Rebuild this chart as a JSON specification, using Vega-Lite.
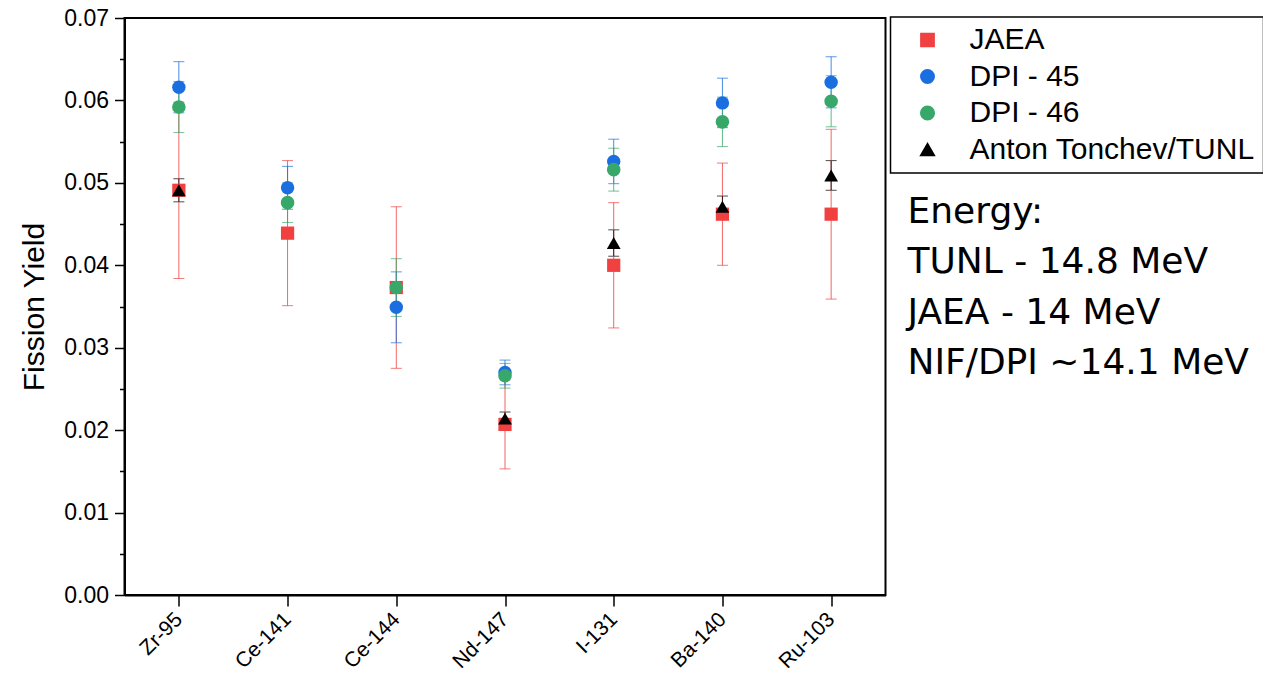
{
  "$schema": "https://vega.github.io/schema/vega-lite/v6.json",
  "width": 761,
  "height": 577,
  "autosize": {"type": "none"},
  "padding": {"left": 124.5, "top": 18, "right": 377.5, "bottom": 98},
  "background": "white",
  "config": {
    "view": {"stroke": "black", "strokeWidth": 2},
    "font": "Liberation Sans",
    "legend": {"strokeWidth": 1.5},
    "axis": {"grid": false, "domainColor": "black", "domainWidth": 2, "tickColor": "black", "tickWidth": 1.5, "labelColor": "black", "titleColor": "black", "labelFont": "Liberation Sans", "titleFont": "Liberation Sans"}
  },
  "datasets": {
    "yields": [
      {"iso": "Zr-95", "series": "JAEA", "y": 0.0491, "err": 0.0107},
      {"iso": "Ce-141", "series": "JAEA", "y": 0.0439, "err": 0.0088},
      {"iso": "Ce-144", "series": "JAEA", "y": 0.0373, "err": 0.0098},
      {"iso": "Nd-147", "series": "JAEA", "y": 0.0207, "err": 0.0054},
      {"iso": "I-131", "series": "JAEA", "y": 0.0400, "err": 0.0076},
      {"iso": "Ba-140", "series": "JAEA", "y": 0.0462, "err": 0.0062},
      {"iso": "Ru-103", "series": "JAEA", "y": 0.0462, "err": 0.0103},
      {"iso": "Zr-95", "series": "DPI - 45", "y": 0.0616, "err": 0.0031},
      {"iso": "Ce-141", "series": "DPI - 45", "y": 0.0494, "err": 0.0026},
      {"iso": "Ce-144", "series": "DPI - 45", "y": 0.0349, "err": 0.0043},
      {"iso": "Nd-147", "series": "DPI - 45", "y": 0.0270, "err": 0.0015},
      {"iso": "I-131", "series": "DPI - 45", "y": 0.0526, "err": 0.0027},
      {"iso": "Ba-140", "series": "DPI - 45", "y": 0.0597, "err": 0.0030},
      {"iso": "Ru-103", "series": "DPI - 45", "y": 0.0622, "err": 0.0031},
      {"iso": "Zr-95", "series": "DPI - 46", "y": 0.0592, "err": 0.0031},
      {"iso": "Ce-141", "series": "DPI - 46", "y": 0.0476, "err": 0.0024},
      {"iso": "Ce-144", "series": "DPI - 46", "y": 0.0373, "err": 0.0035},
      {"iso": "Nd-147", "series": "DPI - 46", "y": 0.0266, "err": 0.0015},
      {"iso": "I-131", "series": "DPI - 46", "y": 0.0516, "err": 0.0026},
      {"iso": "Ba-140", "series": "DPI - 46", "y": 0.0574, "err": 0.0030},
      {"iso": "Ru-103", "series": "DPI - 46", "y": 0.0599, "err": 0.0031},
      {"iso": "Zr-95", "series": "Anton Tonchev/TUNL", "y": 0.0491, "err": 0.0014},
      {"iso": "Nd-147", "series": "Anton Tonchev/TUNL", "y": 0.0214, "err": 0.0008},
      {"iso": "I-131", "series": "Anton Tonchev/TUNL", "y": 0.0427, "err": 0.0016},
      {"iso": "Ba-140", "series": "Anton Tonchev/TUNL", "y": 0.0471, "err": 0.0013},
      {"iso": "Ru-103", "series": "Anton Tonchev/TUNL", "y": 0.0509, "err": 0.0018}
    ],
    "energies": [
      {"energy": "TUNL - 14.8 MeV"},
      {"energy": "JAEA - 14 MeV"},
      {"energy": "NIF/DPI ~14.1 MeV"}
    ]
  },
  "layer": [
    {
      "data": {"name": "yields"},
      "mark": {"type": "errorbar", "ticks": {"size": 11, "strokeOpacity": 0.8}, "rule": {"strokeOpacity": 0.8}, "thickness": 1},
      "encoding": {
        "x": {"field": "iso", "type": "nominal", "sort": ["Zr-95", "Ce-141", "Ce-144", "Nd-147", "I-131", "Ba-140", "Ru-103"], "scale": {"type": "point", "padding": 0.5},
          "axis": {"title": null, "labelAngle": -45, "labelFontSize": 21, "tickSize": 11, "labelPadding": 10, "labelBaseline": "middle", "labelAlign": "right"}},
        "y": {"field": "y", "type": "quantitative", "scale": {"domain": [0, 0.07], "nice": false},
          "axis": {"values": [0, 0.01, 0.02, 0.03, 0.04, 0.05, 0.06, 0.07], "format": ".2f", "tickSize": 10, "labelFontSize": 23, "labelPadding": 6, "title": "Fission Yield", "titleFontSize": 30, "titleFontWeight": "normal", "titlePadding": 14}},
        "yError": {"field": "err"},
        "color": {"field": "series", "type": "nominal", "scale": {"domain": ["JAEA", "DPI - 45", "DPI - 46", "Anton Tonchev/TUNL"], "range": ["#f04040", "#1a6ee0", "#38a86a", "#000000"]}}
      }
    },
    {
      "data": {"name": "yields"},
      "mark": {"type": "point", "filled": true, "opacity": 1},
      "encoding": {
        "x": {"field": "iso", "type": "nominal", "sort": ["Zr-95", "Ce-141", "Ce-144", "Nd-147", "I-131", "Ba-140", "Ru-103"]},
        "y": {"field": "y", "type": "quantitative",
          "axis": {"orient": "left", "values": [0.005, 0.015, 0.025, 0.035, 0.045, 0.055, 0.065], "labels": false, "tickSize": 5, "domain": false, "title": null}},
        "color": {"field": "series", "type": "nominal", "scale": {"domain": ["JAEA", "DPI - 45", "DPI - 46", "Anton Tonchev/TUNL"], "range": ["#f04040", "#1a6ee0", "#38a86a", "#000000"]},
          "legend": {"title": null, "orient": "none", "legendX": 766, "legendY": -1, "strokeColor": "black", "fillColor": "white", "padding": 8, "labelFontSize": 30, "labelFont": "Liberation Sans", "labelColor": "black", "labelLimit": 400, "rowPadding": 6.5, "symbolSize": 150, "symbolOpacity": 1, "symbolOffset": 14, "labelOffset": 27,
            "encode": {"symbols": {"update": {"opacity": {"value": 1}, "fillOpacity": {"value": 1}}}}}},
        "shape": {"field": "series", "type": "nominal", "scale": {"domain": ["JAEA", "DPI - 45", "DPI - 46", "Anton Tonchev/TUNL"], "range": ["square", "circle", "circle", "triangle-up"]},
          "legend": {"title": null}},
        "size": {"field": "series", "type": "ordinal", "scale": {"domain": ["JAEA", "DPI - 45", "DPI - 46", "Anton Tonchev/TUNL"], "range": [175, 190, 120, 200]}, "legend": null}
      }
    },
    {
      "data": {"name": "energies"},
      "mark": {"type": "point", "opacity": 0},
      "encoding": {
        "strokeDash": {"field": "energy", "type": "nominal", "scale": {"domain": ["TUNL - 14.8 MeV", "JAEA - 14 MeV", "NIF/DPI ~14.1 MeV"]},
          "legend": {"title": "Energy:", "orient": "none", "legendX": 783, "legendY": 177, "strokeColor": "transparent", "titleFont": "DejaVu Sans", "titleFontSize": 36, "titleFontWeight": "normal", "titleColor": "black", "titlePadding": 13, "labelFont": "DejaVu Sans", "labelFontSize": 36, "labelColor": "black", "labelLimit": 400, "rowPadding": 14.5, "symbolOpacity": 0, "symbolStrokeWidth": 0, "symbolSize": 0, "labelOffset": -36, "padding": 0}}
      }
    }
  ],
  "resolve": {"axis": {"y": "independent"}}
}
